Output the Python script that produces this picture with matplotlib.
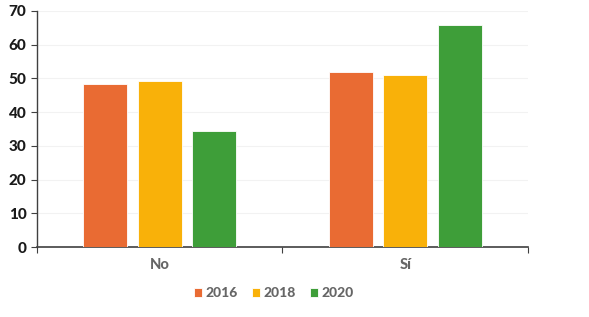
import matplotlib
matplotlib.use("Agg")
import matplotlib.pyplot as plt
import numpy as np

categories = ["No", "Sí"]
years = ["2016", "2018", "2020"]
values_2016 = [48.3, 51.8]
values_2018 = [49.1, 51.0]
values_2020 = [34.3, 65.9]
colors = ["#E96B33", "#F9B109", "#3E9E39"]

plt.rcParams['font.family'] = ['Lato', 'DejaVu Sans']
fig = plt.figure(figsize=(5.89, 3.17), dpi=100)
ax = fig.add_axes([0.0628, 0.2208, 0.8336, 0.7445])

x = np.arange(len(categories))
width = 0.18
pitch = 0.222
series = [values_2016, values_2018, values_2020]
for i, (vals, c, lab) in enumerate(zip(series, colors, years)):
    ax.bar(x + (i - 1) * pitch, vals, width, color=c, label=lab,
           edgecolor='white', linewidth=0.6, zorder=3)

ax.set_xlim(-0.5, 1.5)
ax.set_ylim(0, 70)
ax.set_yticks(range(0, 71, 10))
ax.yaxis.grid(True, color='#f2f2f2', linewidth=0.8, zorder=0)
ax.set_axisbelow(True)
for s in ['top', 'right']:
    ax.spines[s].set_visible(False)
ax.spines['left'].set_color('#404040')
ax.spines['bottom'].set_color('#404040')
ax.spines['left'].set_linewidth(1.0)
ax.spines['bottom'].set_linewidth(1.2)

ax.set_xticks([-0.5, 0.5, 1.5])
ax.set_xticklabels([])
ax.set_xticks(x, minor=True)
ax.set_xticklabels(categories, minor=True)
ax.tick_params(axis='x', which='major', length=4, color='#404040', direction='out')
ax.tick_params(axis='x', which='minor', length=0, pad=8, labelsize=10.5, labelcolor='#666666')
ax.tick_params(axis='y', length=4, color='#404040', labelsize=11, labelcolor='#1a1a1a')
for t in ax.get_yticklabels():
    t.set_fontweight('black')
for t in ax.get_xticklabels(minor=True):
    t.set_fontweight('black')

leg = fig.legend(loc='center', bbox_to_anchor=(0.465, 0.075), ncol=3, frameon=False,
                 handlelength=0.6, handleheight=0.6, handletextpad=0.25, columnspacing=1.0,
                 prop={'weight': 'black', 'size': 10})
for t in leg.get_texts():
    t.set_color('#666666')

fig.savefig("out.png", dpi=100)
